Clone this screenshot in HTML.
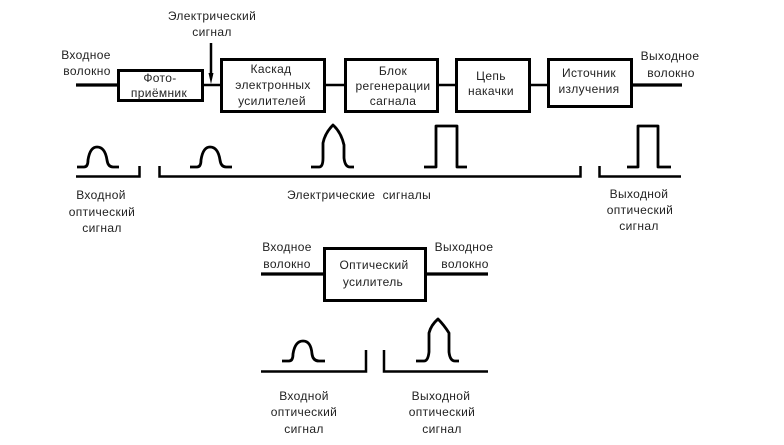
<!DOCTYPE html>
<html lang="ru">
<head>
<meta charset="utf-8">
<title>Схема</title>
<style>
html,body{margin:0;padding:0;background:#fff;width:784px;height:445px;overflow:hidden}
svg{display:block}
text{font-family:"Liberation Sans",sans-serif;font-size:12px;fill:#222;text-anchor:middle;letter-spacing:.35px}
.b{fill:none;stroke:#000;stroke-width:3}
.l{fill:none;stroke:#000;stroke-width:2.5}
.t{fill:none;stroke:#000;stroke-width:3.2}
.p{fill:none;stroke:#000;stroke-width:2.8;stroke-linejoin:round}
</style>
</head>
<body>
<svg width="784" height="445" viewBox="0 0 784 445" xmlns="http://www.w3.org/2000/svg">
<rect class="b" x="118.500" y="70.500" width="84" height="30"/>
<rect class="b" x="221.500" y="59.500" width="103" height="52"/>
<rect class="b" x="345.500" y="59.500" width="92" height="52"/>
<rect class="b" x="456.500" y="59.500" width="73" height="52"/>
<rect class="b" x="548.500" y="59.500" width="83" height="47"/>
<rect class="b" x="324.500" y="248.500" width="101" height="52"/>

<path class="t" d="M76 85H118M631 85H682M261 274H324M425 274H488"/>
<path class="l" d="M202 85H221M325 85H345M438 85H456M530 85H548"/>
<path d="M211 43V76" stroke="#000" stroke-width="2.500" fill="none"/>
<path d="M208.500 73H213.500L211 84Z" fill="#000"/>

<path class="l" d="M76 176.500H139.500V166M159.500 166V176.500H580.500V166M599.500 166V176.500H681"/>
<path class="l" d="M261 371.500H366V350M384 350V371.500H488"/>

<path class="p" d="M77 167H84Q88 167 88 160Q90 147 97 147Q105 147 107 160Q108 167 113 167H119"/>
<path class="p" d="M190 167H197Q201 167 201 160Q203 147 210 147Q218 147 220 160Q221 167 226 167H232"/>
<path class="p" d="M311 167H319Q323 167 323 158V143Q325 133 333 125Q341 132 344 145V158Q345 167 350 167H354"/>
<path class="p" d="M424 167H436V126H457V167H467"/>
<path class="p" d="M627 167H638V126H658V167H671"/>
<path class="p" d="M282 361H289Q293 361 293 354Q295 341 303 341Q311 341 312 354Q313 361 319 361H325"/>
<path class="p" d="M416 361H424Q428 361 429 352V333Q431 325 438 319Q444 325 449 333V352Q450 361 455 361H459"/>

<text x="212" y="20">Электрический</text>
<text x="212" y="36">сигнал</text>
<text x="86" y="59">Входное</text>
<text x="87" y="75">волокно</text>
<text x="160" y="82">Фото-</text>
<text x="159" y="97">приёмник</text>
<text x="271" y="73">Каскад</text>
<text x="273" y="89">электронных</text>
<text x="272" y="105">усилителей</text>
<text x="393" y="75">Блок</text>
<text x="393" y="90">регенерации</text>
<text x="393" y="105">сагнала</text>
<text x="491" y="80">Цепь</text>
<text x="491" y="95">накачки</text>
<text x="589" y="77">Источник</text>
<text x="589" y="93">излучения</text>
<text x="670" y="60">Выходное</text>
<text x="671" y="77">волокно</text>
<text x="101" y="199">Входной</text>
<text x="102" y="216">оптический</text>
<text x="102" y="232">сигнал</text>
<text x="359" y="199" xml:space="preserve">Электрические  сигналы</text>
<text x="639" y="198">Выходной</text>
<text x="640" y="214">оптический</text>
<text x="639" y="230">сигнал</text>
<text x="287" y="251">Входное</text>
<text x="287" y="268">волокно</text>
<text x="374" y="269">Оптический</text>
<text x="373" y="286">усилитель</text>
<text x="464" y="251">Выходное</text>
<text x="465" y="268">волокно</text>
<text x="304" y="400">Входной</text>
<text x="304" y="416">оптический</text>
<text x="304" y="433">сигнал</text>
<text x="441" y="400">Выходной</text>
<text x="442" y="416">оптический</text>
<text x="442" y="433">сигнал</text>
</svg>
</body>
</html>
